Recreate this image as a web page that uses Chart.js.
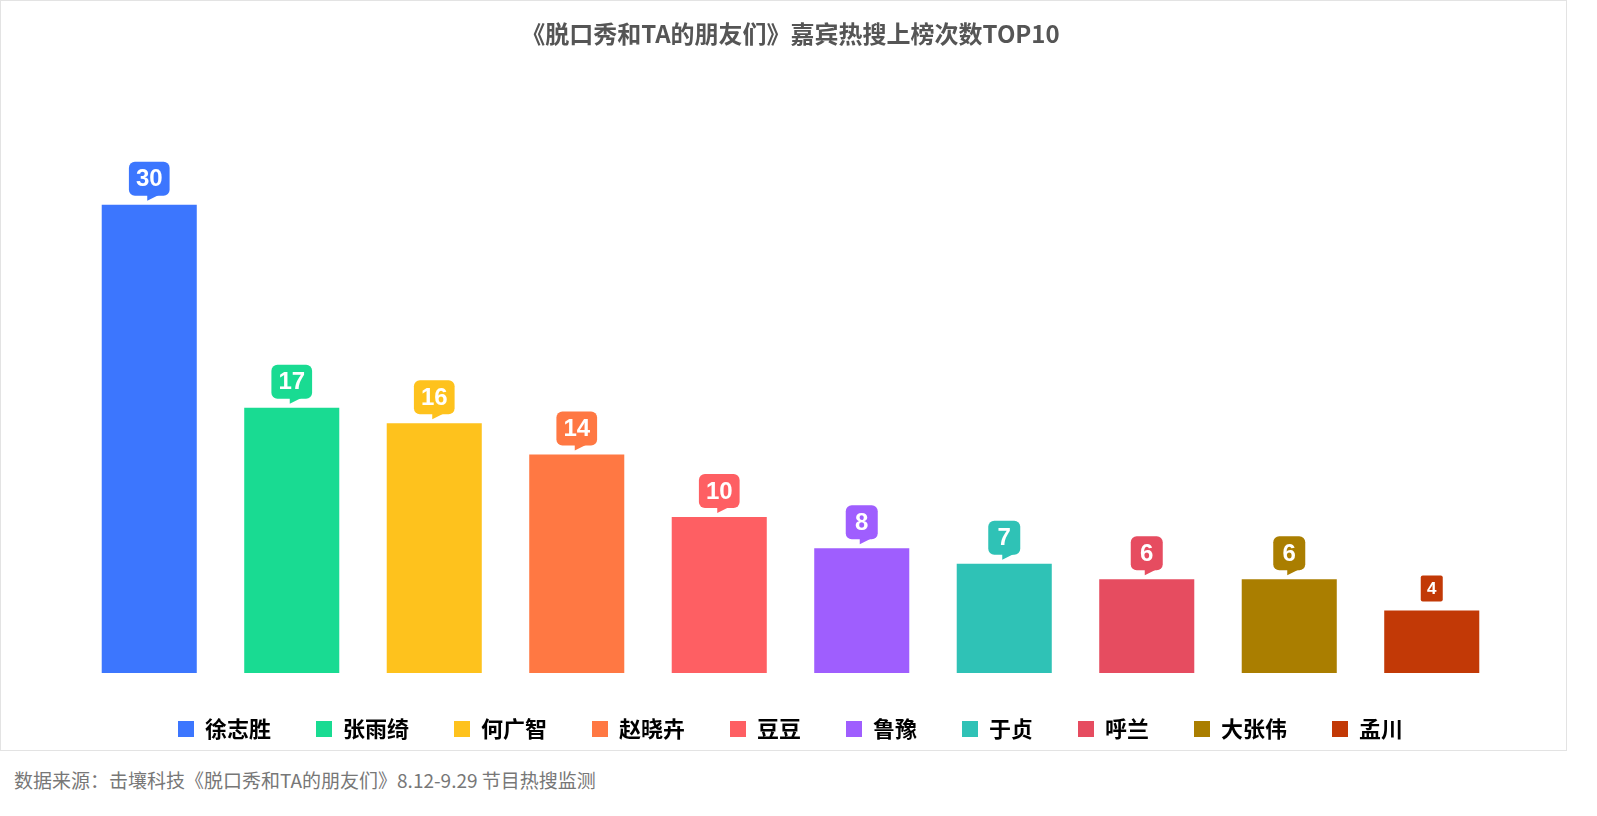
<!DOCTYPE html>
<html><head><meta charset="utf-8">
<script src="https://cdn.jsdelivr.net/npm/chart.js@4/dist/chart.umd.min.js"></script>
<style>
body{margin:0;background:#fff;font-family:"Noto Sans CJK SC",sans-serif}
#box{position:absolute;left:0;top:0;width:1565px;height:749px;border:1px solid #e3e3e3}
#note{position:absolute;left:14px;top:766px;font-size:19px;color:#777}
</style></head><body>
<div id="box"><canvas id="c"></canvas></div>
<div id="note">数据来源：击壤科技《脱口秀和TA的朋友们》8.12-9.29 节目热搜监测</div>
<script>
const names = ['徐志胜','张雨绮','何广智','赵晓卉','豆豆','鲁豫','于贞','呼兰','大张伟','孟川'];
const counts = [30,17,16,14,10,8,7,6,6,4];
const colors = ['#3c76fe','#19db92','#fec21d','#ff7843','#fe5f63','#9f5efe','#2fc2b6','#e64c60','#aa7e00','#c23906'];

const badges = {
  id: 'badges',
  afterDatasetsDraw(chart) {
    const ctx = chart.ctx;
    chart.getDatasetMeta(0).data.forEach((bar, i) => {
      const small = counts[i] < 5;
      const txt = String(counts[i]);
      ctx.font = (small ? 'bold 17px' : 'bold 24px') + ' "Liberation Sans", Arial';
      const w = small ? 22 : Math.max(32, ctx.measureText(txt).width + 14);
      const h = small ? 26 : 34;
      const x = bar.x - w / 2, y = bar.y - h - 9;
      ctx.fillStyle = colors[i];
      ctx.beginPath();
      if (ctx.roundRect) ctx.roundRect(x, y, w, h, small ? 2 : 6); else ctx.rect(x, y, w, h);
      ctx.fill();
      if (!small) {
        ctx.beginPath();
        ctx.moveTo(bar.x - 2, y + h - 1);
        ctx.lineTo(bar.x + 10, y + h - 1);
        ctx.lineTo(bar.x - 2, y + h + 5);
        ctx.fill();
      }
      ctx.fillStyle = '#fff';
      ctx.textAlign = 'center';
      ctx.textBaseline = 'middle';
      ctx.fillText(txt, bar.x, y + h / 2 + 1);
    });
  }
};

new Chart(document.getElementById('c'), {
  type: 'bar',
  data: {
    labels: names,
    datasets: [{ data: counts, backgroundColor: colors, barPercentage: 0.667, categoryPercentage: 1 }]
  },
  options: {
    responsive: true, maintainAspectRatio: false, animation: false,
    layout: { padding: { left: 77, right: 63, top: 0, bottom: 0 } },
    scales: {
      x: { display: false },
      y: { display: false, min: 0, max: 35 }
    },
    plugins: {
      tooltip: { enabled: false },
      title: {
        display: true,
        text: '《脱口秀和TA的朋友们》嘉宾热搜上榜次数TOP10',
        color: '#555',
        font: { size: 24, weight: 'bold', family: '"Noto Sans CJK SC"' },
        padding: { top: 18, bottom: 79 }
      },
      legend: {
        position: 'bottom',
        labels: {
          boxWidth: 16, boxHeight: 16, padding: 45,
          color: '#555',
          font: { size: 22, weight: 'bold', family: '"Noto Sans CJK SC"' },
          generateLabels: () => names.map((n, i) => ({ text: n, fillStyle: colors[i], strokeStyle: colors[i], lineWidth: 0, index: i }))
        }
      }
    }
  },
  plugins: [badges]
});
</script>
</body></html>
